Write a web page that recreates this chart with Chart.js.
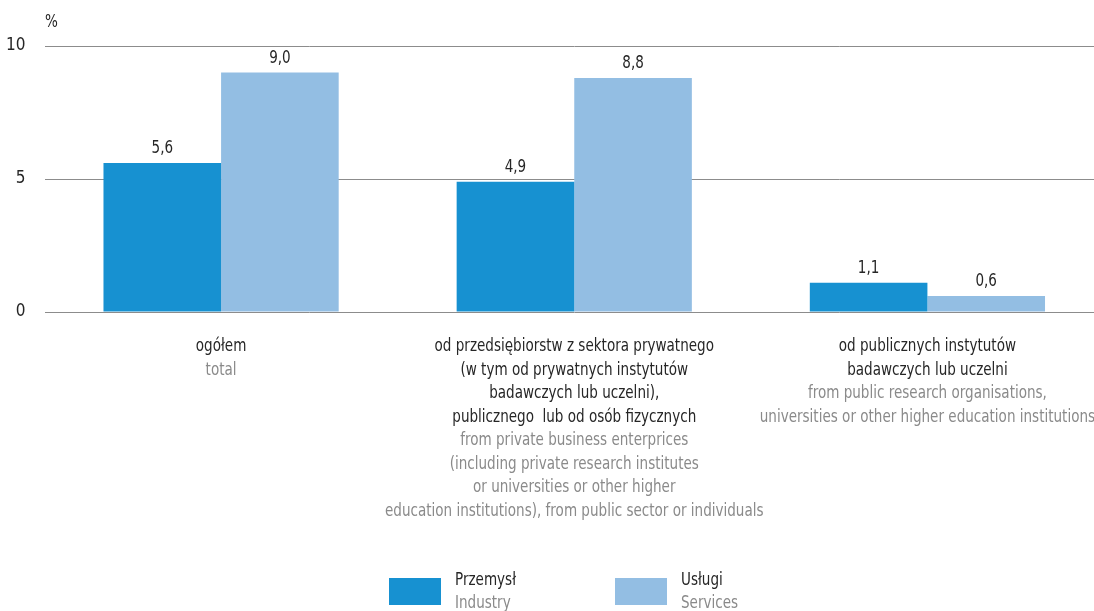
<!DOCTYPE html>
<html>
<head>
<meta charset="utf-8">
<script src="https://cdn.jsdelivr.net/npm/chart.js@4"></script>
<style>
  html, body { margin: 0; padding: 0; background: #fff; overflow: hidden; }
  #wrap { position: absolute; left: 0; top: 0; width: 1104px; height: 611px; }
</style>
</head>
<body>
<div id="wrap"><canvas id="c" width="1104" height="611"></canvas></div>
<script>
// Category labels: Polish lines (dark) followed by English lines (grey)
const categoriesPl = [
  ['ogółem'],
  ['od przedsiębiorstw z sektora prywatnego', '(w tym od prywatnych instytutów', 'badawczych lub uczelni),', 'publicznego  lub od osób fizycznych'],
  ['od publicznych instytutów', 'badawczych lub uczelni']
];
const categoriesEn = [
  ['total'],
  ['from private business enterprices', '(including private research institutes', 'or universities or other higher', 'education institutions), from public sector or individuals'],
  ['from public research organisations,', 'universities or other higher education institutions']
];
const seriesNamesPl = ['Przemysł', 'Usługi'];
const seriesNamesEn = ['Industry', 'Services'];
const industry = [5.6, 4.9, 1.1];
const services = [9.0, 8.8, 0.6];
const yTicks = [0, 5, 10];
const unitLabel = '%';

const FONT = "'DejaVu Sans Condensed', 'Liberation Sans Narrow', sans-serif";
const DARK = '#262626';
const GREY = '#8a8a8a';
const COLORS = ['#1791d1', '#93bee3'];
const SQUEEZE = 0.885; // horizontal compression for a narrow typeface look

const fmt = v => v.toFixed(1).replace('.', ',');

// draws text compressed horizontally around its anchor point
function narrowText(ctx, text, x, y) {
  ctx.save();
  ctx.translate(x, y);
  ctx.scale(SQUEEZE, 1);
  ctx.fillText(text, 0, 0);
  ctx.restore();
}

const annotate = {
  id: 'annotate',
  afterDatasetsDraw(chart) {
    const ctx = chart.ctx;
    const x = chart.scales.x;
    ctx.save();
    // unit label
    ctx.font = '17px ' + FONT;
    ctx.fillStyle = DARK;
    ctx.textAlign = 'left';
    ctx.textBaseline = 'middle';
    narrowText(ctx, unitLabel, 45, 23);

    // value labels above bars
    ctx.textAlign = 'center';
    ctx.textBaseline = 'bottom';
    chart.data.datasets.forEach((ds, di) => {
      const meta = chart.getDatasetMeta(di);
      meta.data.forEach((bar, i) => {
        narrowText(ctx, fmt(ds.data[i]), bar.x, bar.y - 6);
      });
    });

    // category labels
    ctx.font = '17px ' + FONT;
    ctx.textBaseline = 'middle';
    const lh = 23.5;
    categoriesPl.forEach((pl, i) => {
      const cx = x.getPixelForValue(i);
      let ly = 347;
      ctx.fillStyle = DARK;
      pl.forEach(t => { narrowText(ctx, t, cx, ly); ly += lh; });
      ctx.fillStyle = GREY;
      categoriesEn[i].forEach(t => { narrowText(ctx, t, cx, ly); ly += lh; });
    });

    // legend
    const legendX = [389, 615];
    seriesNamesPl.forEach((name, i) => {
      const lx = legendX[i];
      ctx.fillStyle = chart.data.datasets[i].backgroundColor;
      ctx.fillRect(lx, 578, 52, 27);
      ctx.textAlign = 'left';
      ctx.fillStyle = DARK;
      narrowText(ctx, name, lx + 66, 581);
      ctx.fillStyle = GREY;
      narrowText(ctx, seriesNamesEn[i], lx + 66, 604);
    });
    ctx.restore();
  }
};

new Chart(document.getElementById('c'), {
  type: 'bar',
  data: {
    labels: categoriesPl.map(l => l[0]),
    datasets: [
      { label: seriesNamesPl[0], data: industry, backgroundColor: COLORS[0] },
      { label: seriesNamesPl[1], data: services, backgroundColor: COLORS[1] }
    ]
  },
  options: {
    responsive: false,
    animation: false,
    layout: { padding: { top: 46, right: 0, left: 0, bottom: 0 } },
    categoryPercentage: 0.666,
    barPercentage: 1.0,
    plugins: { legend: { display: false }, tooltip: { enabled: false } },
    scales: {
      x: {
        grid: { display: false },
        border: { display: false },
        ticks: { display: false },
        afterFit(s) { s.height = 299; }
      },
      y: {
        min: 0, max: 10,
        afterBuildTicks(s) { s.ticks = yTicks.map(v => ({ value: v })); },
        afterFit(s) { s.width = 44.5; },
        grid: { color: '#8c8c8c', lineWidth: 1, drawTicks: false },
        border: { display: false },
        ticks: { padding: 19, color: DARK, font: { family: "'DejaVu Sans Condensed', sans-serif", size: 17 } }
      }
    }
  },
  plugins: [annotate]
});
</script>
</body>
</html>
